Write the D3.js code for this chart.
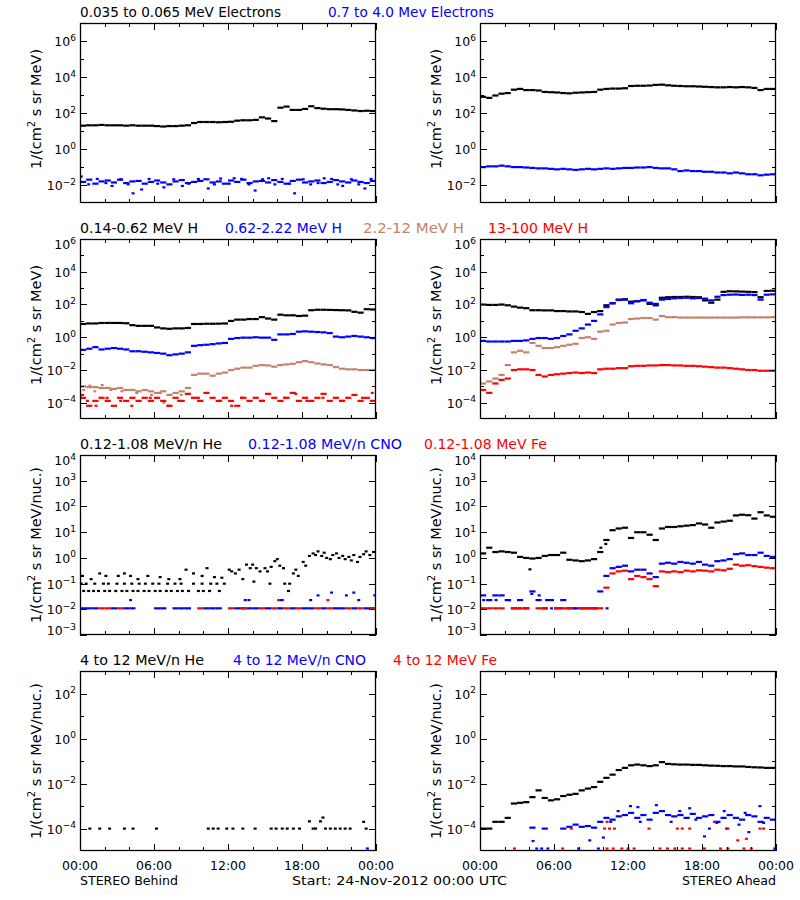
<!DOCTYPE html>
<html><head><meta charset="utf-8">
<script src="https://cdn.jsdelivr.net/npm/d3@7"></script>
<style>
body{margin:0;background:#fff}
text{font-family:"DejaVu Sans",sans-serif}
</style>
</head><body>
<svg id="chart" width="800" height="900"></svg>
<script>
// ---------- time bins (hours since 24-Nov-2012 00:00 UTC), 30-minute bins ----------
const binHours = [0,0.5,1,1.5,2,2.5,3,3.5,4,4.5,5,5.5,6,6.5,7,7.5,8,8.5,9,9.5,10,10.5,11,11.5,
  12,12.5,13,13.5,14,14.5,15,15.5,16,16.5,17,17.5,18,18.5,19,19.5,20,20.5,21,21.5,22,22.5,23,23.5];
const xTickHours = [0,6,12,18,24];
const xTickLabels = ["00:00","06:00","12:00","18:00","00:00"];

// ---------- Row 1: electrons ----------
const eLowBehind = [20,21,21,22,21,21,21,20,21,20,20,20,19,18,19,19,20,21,28,32,32,32,31,32,
  33,38,40,40,42,58,50,36,200,230,150,150,170,240,190,175,165,165,160,150,140,130,135,130];
const eHighBehind = [0.015,0.02,0.012,0.016,0.018,0.014,0.02,0.013,0.016,0.017,0.012,0.015,0.018,0.014,0.011,0.016,
  0.019,0.013,0.015,0.017,0.021,0.014,0.016,0.012,0.018,0.015,0.02,0.013,0.016,0.017,0.014,0.019,
  0.015,0.012,0.017,0.02,0.014,0.016,0.018,0.013,0.015,0.019,0.016,0.014,0.018,0.015,0.013,0.017];
const eHighBehindScatter = [[0.1,0.03],[4.3,0.0035],[5.0,0.0057],[6.8,0.0075],[10.4,0.0065],[14.2,0.005],
  [17.4,0.0035],[23.1,0.0065],[2.6,0.009],[8.3,0.009],[12.5,0.024],[19.8,0.024],[21.3,0.009],[15.3,0.024],
  [0.7,0.011],[1.4,0.022],[2.1,0.013],[3.3,0.021],[3.9,0.011],[5.6,0.022],[6.3,0.012],[7.6,0.021],[8.8,0.012],
  [9.6,0.022],[10.9,0.011],[11.4,0.023],[12.1,0.012],[13.1,0.022],[13.7,0.011],[14.8,0.021],[15.8,0.011],
  [16.4,0.022],[17.0,0.012],[18.1,0.021],[18.7,0.011],[19.3,0.013],[20.4,0.022],[20.9,0.011],[22.0,0.021],
  [22.6,0.011],[23.6,0.022]];
const eLowAhead = [800,700,950,1200,1300,2000,2200,1900,1900,1800,1500,1450,1400,1300,1250,1350,
  1400,1450,1500,2000,2200,2300,2300,2400,3200,3300,3300,3400,3700,3800,3500,3300,
  3200,3100,3100,3000,2900,2800,2700,2700,2800,2700,2800,2700,2500,1900,2200,2200];
const eHighAhead = [0.1,0.11,0.11,0.12,0.11,0.1,0.1,0.095,0.09,0.085,0.085,0.08,0.075,0.08,0.075,0.07,
  0.075,0.08,0.075,0.08,0.085,0.08,0.085,0.09,0.09,0.095,0.095,0.1,0.09,0.085,0.085,0.075,
  0.06,0.065,0.06,0.06,0.055,0.055,0.05,0.05,0.045,0.05,0.045,0.04,0.04,0.035,0.038,0.04];

// ---------- Row 2: protons ----------
const hLowBehind = [6.5,7,7,7.5,7.5,7.5,7.5,7.2,5.5,5,5,5,4,3.5,3.3,3.5,3.5,3.7,6.5,6.5,6.7,6.7,6.8,7,
  10,12,12,13,13,17,14,12,24,22,22,20,21,45,48,48,47,46,45,44,36,32,52,50];
const hMidBehind = [0.17,0.2,0.25,0.18,0.2,0.22,0.2,0.18,0.14,0.14,0.13,0.12,0.11,0.1,0.08,0.09,0.1,0.12,
  0.3,0.33,0.35,0.38,0.42,0.45,0.8,0.9,0.95,0.95,1.0,0.95,0.95,0.7,1.5,1.5,1.6,2.2,2.3,2.2,2.1,2.0,1.8,
  1.1,1.0,1.1,1.2,1.1,1.0,0.9];
const hHighBehind = [0.001,0.0009,0.0009,0.0008,0.0008,0.0007,0.0008,0.0006,0.0006,0.0005,0.0006,0.0005,
  0.0004,0.0005,0.0003,0.0004,0.0005,0.0008,0.005,0.006,0.006,0.0045,0.006,0.007,0.01,0.012,0.014,0.014,
  0.018,0.02,0.019,0.016,0.02,0.022,0.024,0.03,0.035,0.03,0.025,0.022,0.02,0.015,0.012,0.011,0.011,0.01,0.01,0.01];
const hHighBehindScatter = [[0.3,0.0006],[1.2,0.0005],[2.5,0.0006],[3.4,0.0005],[4.6,0.0004],[5.8,0.0003],
  [6.5,0.0004],[7.3,0.0003],[6.8,0.0001],[8.2,0.0003],[1.8,0.0012],[0.8,0.0011]];
const hVeryHighBehind = [2e-4,6.5e-5,1.3e-4,2e-4,1.3e-4,6.5e-5,2e-4,1.3e-4,2e-4,1.3e-4,2e-4,1.3e-4,2e-4,1.3e-4,
  6.5e-5,2e-4,1.3e-4,3.5e-4,2e-4,1.3e-4,4e-4,2e-4,1.3e-4,2e-4,1.3e-4,6.5e-5,2e-4,1.3e-4,2e-4,1.3e-4,3.5e-4,
  2e-4,1.3e-4,2e-4,4e-4,1.3e-4,2e-4,1.3e-4,2e-4,3.5e-4,1.3e-4,2e-4,1.3e-4,2e-4,3e-4,1.3e-4,2e-4,1.3e-4];
const hVeryHighBehindScatter = [[0.2,3e-4],[0.6,1.3e-4],[1.3,6.5e-5],[2.2,2e-4],[3.3,1.3e-4],[4.2,6.5e-5],
  [5.7,2e-4],[7.2,6.5e-5],[8,1.3e-4],[9.6,2e-4],[11.4,1.3e-4],[13.1,2e-4],[14.8,1.3e-4],[16.6,2e-4],
  [18.4,1.3e-4],[19.7,2e-4],[21.3,1.3e-4],[22.9,2e-4],[23.7,4e-4],[12.3,6.5e-5],[17.5,3.5e-4]];
const hLowAhead = [100,95,95,100,90,75,65,60,45,45,44,44,40,40,38,38,35,27,35,40,90,120,200,210,
  150,160,180,110,90,260,280,290,290,300,290,280,180,130,200,600,650,640,620,600,580,280,680,700];
const hMidAhead = [0.6,0.55,0.55,0.55,0.55,0.6,0.6,0.65,0.8,0.9,0.9,0.8,0.9,1.2,1.5,2.5,3.5,6,10,25,70,120,190,200,
  120,160,190,130,110,200,220,240,250,260,240,250,230,180,300,380,400,410,390,400,380,200,400,420];
const hHighAhead = [0.0015,0.002,0.003,0.005,0.02,0.12,0.15,0.12,0.45,0.3,0.22,0.22,0.25,0.3,0.35,0.4,
  0.9,1.0,0.8,2.2,2.5,6,7.5,8,13,14,15,15,12,20,17,17,16,16,16,16,16,16,16,16,16,16,16.5,16.5,16.5,16.5,16.5,17];
const hVeryHighAhead = [0.0006,0.0004,0.0015,0.0025,0.003,0.01,0.011,0.011,0.01,0.005,0.004,0.005,0.0055,
  0.006,0.0065,0.007,0.0065,0.007,0.0065,0.011,0.012,0.012,0.013,0.013,0.017,0.018,0.018,0.019,0.019,0.02,
  0.02,0.019,0.019,0.018,0.018,0.017,0.016,0.015,0.014,0.014,0.013,0.012,0.011,0.01,0.01,0.009,0.009,0.009];

// ---------- Row 3: 0.12-1.08 MeV/n heavy ions ----------
const heLowBehindPts = [
  [0.3,0.052],[0.7,0.052],[1.1,0.052],[1.5,0.052],[2.0,0.052],[2.4,0.052],[2.9,0.052],[3.4,0.052],[3.8,0.052],
  [4.3,0.052],[4.7,0.052],[5.2,0.052],[5.6,0.052],[6.1,0.052],[6.5,0.052],[7.0,0.052],[7.4,0.052],[7.9,0.052],
  [8.3,0.052],[8.8,0.052],[9.6,0.052],[10.0,0.052],[10.5,0.052],[11.3,0.052],[16.9,0.052],
  [0.1,0.1],[0.5,0.1],[1.2,0.1],[1.9,0.1],[2.3,0.1],[3.0,0.1],[3.6,0.1],[4.2,0.1],[4.8,0.1],[5.3,0.1],[5.9,0.1],
  [6.4,0.1],[7.1,0.1],[7.7,0.1],[8.2,0.1],[9.2,0.1],[9.9,0.1],[10.6,0.1],[11.1,0.1],[11.7,0.1],[15.4,0.1],[17.0,0.1],
  [0.2,0.2],[0.9,0.15],[1.6,0.25],[2.1,0.2],[3.1,0.2],[3.6,0.25],[4.1,0.2],[4.7,0.15],[5.5,0.2],[6.5,0.18],
  [7.2,0.15],[8.1,0.15],[8.6,0.35],[9.2,0.25],[9.9,0.2],[10.3,0.4],[10.9,0.18],[11.5,0.17],
  [12.1,0.35],[12.3,0.3],[12.6,0.25],[12.9,0.35],[13.2,0.15],[13.5,0.55],[13.8,0.4],[14.1,0.12],[14.3,0.4],
  [14.6,0.3],[15.0,0.4],[15.2,0.3],[15.5,0.45],[15.8,0.75],[16.0,0.9],[16.2,0.5],[16.5,0.4],[16.6,0.1],
  [17.3,0.25],[17.5,0.35],[17.7,0.2],[14.0,0.55],
  [18.1,0.7],[18.3,0.5],[18.6,1.2],[18.9,1.5],[19.1,1.3],[19.3,1.8],[19.6,1.2],[19.8,1.6],[20.0,1.0],[20.3,0.9],
  [20.5,1.3],[20.8,1.5],[21.0,1.0],[21.3,1.2],[21.5,0.9],[21.8,1.1],[22.0,0.8],[22.2,1.3],[22.5,0.7],
  [22.7,1.1],[23.0,1.4],[23.2,1.8],[23.5,1.3],[23.8,1.7]];
const cnoLowBehind = [0.011,0.011,0.011,null,null,0.011,null,0.011,0.011,null,null,null,0.011,0.011,null,0.011,
  0.011,0.011,null,null,0.011,0.011,0.011,null,null,0.011,0.011,0.011,0.011,null,0.011,null,
  0.011,null,0.011,null,0.011,0.011,null,0.011,null,0.011,0.011,null,0.011,null,0.011,0.011];
const cnoLowBehindHigh = [[4.1,0.023],[13.4,0.023],[13.7,0.023],[16.2,0.023],[16.4,0.023],[18.7,0.023],
  [19.3,0.035],[20.4,0.045],[21.6,0.035],[22.2,0.045],[22.6,0.023],[23.9,0.035]];
const feLowBehind = [null,null,null,0.011,0.011,null,0.011,null,null,null,null,null,null,null,null,null,
  null,null,null,0.011,null,null,null,null,0.011,null,0.011,null,null,0.011,null,0.011,
  null,0.011,null,0.011,null,null,0.011,null,0.011,null,null,0.011,null,0.011,null,0.011];
const feLowBehindHigh = [[16.1,0.023],[20.1,0.023]];
const heLowAhead = [1.5,2.5,1.7,1.8,1.7,1.6,1.1,1.0,0.95,1.0,1.2,1.3,1.3,1.6,0.85,0.8,0.75,0.8,0.9,1.7,
  5,12,14,15,6,10,10,8,5,14,16,16,17,18,19,22,20,15,24,26,28,45,48,46,34,60,45,40];
const heLowAheadScatter = [[4.05,0.36],[9.8,2.5],[10.2,3.5]];
const cnoLowAhead = [0.035,0.023,0.035,0.035,0.023,0.011,0.023,0.011,0.05,0.023,0.011,0.023,0.011,0.023,
  0.011,0.011,0.011,0.011,0.011,0.05,0.2,0.4,0.45,0.5,0.3,0.35,0.35,0.25,0.18,0.6,0.65,0.6,0.7,0.65,0.6,0.7,
  0.55,0.5,0.75,0.8,0.9,1.4,1.5,1.3,1.3,1.6,1.2,1.1];
const cnoLowAheadScatter = [[0.3,0.023],[1.3,0.023],[2.4,0.023],[4.2,0.04],[4.8,0.035],[5.4,0.023],
  [3.2,0.011],[5.8,0.011],[6.6,0.011],[7.7,0.011],[9.4,0.011],[10.3,0.011]];
const feLowAhead = [0.011,0.011,0.011,0.011,null,0.011,0.011,0.011,null,0.011,0.011,null,0.011,0.011,0.011,
  null,0.011,0.011,0.011,0.011,0.07,0.25,0.3,0.32,0.15,0.2,0.18,0.15,0.08,0.3,0.28,0.3,0.28,0.32,0.3,0.33,
  0.32,0.3,0.35,0.33,0.38,0.55,0.5,0.52,0.48,0.45,0.42,0.4];

// ---------- Row 4: 4-12 MeV/n heavy ions ----------
const heHighBehindPts = [[0.8,1e-4],[1.6,1e-4],[2.4,1e-4],[3.6,1e-4],[4.3,1e-4],[6.2,1e-4],[10.4,1e-4],
  [10.8,1e-4],[11.2,1e-4],[11.9,1e-4],[12.4,1e-4],[13.2,1e-4],[14.2,1e-4],[15.5,1e-4],[15.9,1e-4],[16.4,1e-4],
  [16.8,1e-4],[17.3,1e-4],[17.8,1e-4],[18.6,2.1e-4],[19.1,1e-4],[19.5,2.1e-4],[19.7,3.1e-4],[19.9,1e-4],
  [20.3,1e-4],[20.7,1e-4],[21.1,1e-4],[21.5,1e-4],[21.9,1e-4],[23.0,2e-4],[23.2,1e-4],[18.9,1e-4]];
const cnoHighBehindPts = [[23.3,1.3e-5]];
const heHighAhead = [1e-4,1e-4,2e-4,2e-4,3e-4,1.3e-3,1.4e-3,1.5e-3,2.5e-3,5e-3,2.3e-3,1.8e-3,2e-3,2.8e-3,
  3.2e-3,3.5e-3,5e-3,6e-3,7e-3,0.012,0.018,0.025,0.04,0.05,0.065,0.07,0.065,0.06,0.065,0.09,0.075,0.072,
  0.07,0.07,0.068,0.068,0.065,0.063,0.062,0.06,0.06,0.058,0.058,0.055,0.053,0.052,0.05,0.05];
const cnoHighAhead = [null,null,null,null,null,null,null,null,1.1e-4,null,1e-4,null,null,1e-4,1.2e-4,1.5e-4,
  1.2e-4,1.3e-4,1.1e-4,2e-4,3e-4,2.5e-4,3.5e-4,4e-4,5e-4,3e-4,4e-4,2.5e-4,5e-4,6e-4,4e-4,3.5e-4,4e-4,3e-4,
  4.5e-4,3e-4,3.5e-4,4e-4,2e-4,3e-4,4e-4,3e-4,2.5e-4,4e-4,3.5e-4,2e-4,3e-4,2.5e-4];
const cnoHighAheadScatter = [[4.3,2.8e-5],[4.6,1.3e-5],[5.0,1.3e-5],[5.5,1.3e-5],[8.9,3e-5],[9.6,1.3e-5],
  [8.0,1.3e-5],[10.0,4e-5],[12.2,1e-3],[12.8,9e-4],[14.3,1.1e-3],[17.0,8e-4],[18.2,4.5e-5],[20.0,1e-4],
  [21.8,7e-5],[22.7,1e-3],[23.9,1.3e-5],[13.0,2e-4],[15.5,2e-4],[17.5,2.5e-4],[19.2,1.8e-4],[21,1.5e-4],
  [23,1.8e-4],[11.2,6e-4],[16.2,6e-4],[19.8,6e-4],[21.5,5e-4],[10.6,2e-4],[18.6,1e-4]];
const feHighAheadPts = [[2.8,1.3e-5],[6.7,1.3e-5],[10.3,1.3e-5],[10.8,1.3e-5],[11.5,1.3e-5],[12.0,1.3e-5],
  [12.5,1.3e-5],[14.6,1.3e-5],[15.2,1.3e-5],[15.8,1.3e-5],[16.4,1.3e-5],[17.0,1.3e-5],[18.2,1.3e-5],
  [19.5,1.3e-5],[20.1,1.3e-5],[21.4,1.3e-5],[22.0,1.3e-5],[7.4,1e-4],[10.1,1e-4],[10.5,1e-4],[10.9,1e-4],
  [13.7,1e-4],[16.0,1e-4],[16.4,1e-4],[17.0,1e-4],[20.1,1e-4],[22.7,1e-4],[23.0,1e-4],[10.3,2e-4],
  [19.0,2e-4],[20.9,3e-5],[21.6,3.5e-5]];

// ---------- texts ----------
const panelTitles = [
  [["0.035 to 0.065 MeV Electrons",80,201,"#000"],["0.7 to 4.0 Mev Electrons",328,166,"#0000ff"]],
  [["0.14-0.62 MeV H",80,118,"#000"],["0.62-2.22 MeV H",225,117,"#0000ff"],["2.2-12 MeV H",363,101,"#c4826a"],["13-100 MeV H",488,100,"#ff0000"]],
  [["0.12-1.08 MeV/n He",80,142,"#000"],["0.12-1.08 MeV/n CNO",248,154,"#0000ff"],["0.12-1.08 MeV Fe",424,123,"#ff0000"]],
  [["4 to 12 MeV/n He",80,124,"#000"],["4 to 12 MeV/n CNO",233,133,"#0000ff"],["4 to 12 MeV Fe",393,104,"#ff0000"]]
];
const yLabelMain = ["1/(cm","1/(cm","1/(cm","1/(cm"];
const yLabelTail = [" s sr MeV)"," s sr MeV)"," s sr MeV/nuc.)"," s sr MeV/nuc.)"];
const yDomains = [[1e-3,1e7],[1e-5,1e6],[1e-3,1e4],[1e-5,1e3]];
const yLabeledExp = [[-2,0,2,4,6],[-4,-2,0,2,4,6],[-3,-2,-1,0,1,2,3,4],[-4,-2,0,2]];
const yMinorExp = [[-1,1,3,5],[-3,-1,1,3,5],[],[-3,-1,1]];

// ---------- layout ----------
const colX = [80,480], rowY = [23,239,455,671], W = 296, H = 180;
const BLACK="#000", BLUE="#0000ff", RED="#ff0000", TAN="#c4826a";

const panels = [
  [0,0,[{t:"bin",d:eLowBehind,c:BLACK},{t:"bin",d:eHighBehind,c:BLUE},{t:"pt",d:eHighBehindScatter,c:BLUE}]],
  [0,1,[{t:"bin",d:eLowAhead,c:BLACK},{t:"bin",d:eHighAhead,c:BLUE}]],
  [1,0,[{t:"bin",d:hLowBehind,c:BLACK},{t:"bin",d:hMidBehind,c:BLUE},{t:"bin",d:hHighBehind,c:TAN},{t:"pt",d:hHighBehindScatter,c:TAN},
        {t:"bin",d:hVeryHighBehind,c:RED},{t:"pt",d:hVeryHighBehindScatter,c:RED}]],
  [1,1,[{t:"bin",d:hLowAhead,c:BLACK},{t:"bin",d:hMidAhead,c:BLUE},{t:"bin",d:hHighAhead,c:TAN},{t:"bin",d:hVeryHighAhead,c:RED}]],
  [2,0,[{t:"pt",d:heLowBehindPts,c:BLACK},{t:"bin",d:cnoLowBehind,c:BLUE},{t:"pt",d:cnoLowBehindHigh,c:BLUE},
        {t:"bin",d:feLowBehind,c:RED},{t:"pt",d:feLowBehindHigh,c:RED}]],
  [2,1,[{t:"bin",d:heLowAhead,c:BLACK},{t:"pt",d:heLowAheadScatter,c:BLACK},{t:"bin",d:cnoLowAhead,c:BLUE},{t:"pt",d:cnoLowAheadScatter,c:BLUE},
        {t:"bin",d:feLowAhead,c:RED}]],
  [3,0,[{t:"pt",d:heHighBehindPts,c:BLACK},{t:"pt",d:cnoHighBehindPts,c:BLUE}]],
  [3,1,[{t:"bin",d:heHighAhead,c:BLACK},{t:"bin",d:cnoHighAhead,c:BLUE},{t:"pt",d:cnoHighAheadScatter,c:BLUE},{t:"pt",d:feHighAheadPts,c:RED}]]
];

const svg = d3.select("#chart");
svg.append("rect").attr("width",800).attr("height",900).attr("fill","#fff");

const x = d3.scaleLinear().domain([0,24]).range([0,W]);
const xTicksAll = d3.range(0,25,2);

panels.forEach(([r,c,series],pi)=>{
  const g = svg.append("g").attr("transform",`translate(${colX[c]},${rowY[r]})`);
  const y = d3.scaleLog().domain(yDomains[r]).range([H,0]);
  const cid = "clip"+pi;
  g.append("clipPath").attr("id",cid).append("rect").attr("x",0).attr("y",0).attr("width",W).attr("height",H);
  const dg = g.append("g").attr("clip-path",`url(#${cid})`);
  series.forEach(s=>{
    if(s.t==="bin"){
      const pts = binHours.map((h,i)=>[h,s.d[i]]).filter(p=>p[1]!=null);
      dg.selectAll(null).data(pts).enter().append("rect")
        .attr("x",p=>x(p[0])).attr("width",p=>x(p[0]+0.5)-x(p[0]))
        .attr("y",p=>y(p[1])-1).attr("height",2.2).attr("fill",s.c);
    } else {
      dg.selectAll(null).data(s.d).enter().append("rect")
        .attr("x",p=>x(p[0])-1.5).attr("width",3)
        .attr("y",p=>y(p[1])-1).attr("height",2.2).attr("fill",s.c);
    }
  });
  g.append("rect").attr("x",0.5).attr("y",0.5).attr("width",W-1).attr("height",H-1)
    .attr("fill","none").attr("stroke","#000").attr("stroke-width",1.3);
  xTicksAll.forEach(h=>{
    const len = (h%6===0)?7:4, px = Math.round(x(h))+0.5;
    g.append("line").attr("x1",px).attr("x2",px).attr("y1",H).attr("y2",H-len).attr("stroke","#000");
    g.append("line").attr("x1",px).attr("x2",px).attr("y1",0).attr("y2",len).attr("stroke","#000");
  });
  const yt = (e,len)=>{
    const py = Math.round(y(Math.pow(10,e)))+0.5;
    g.append("line").attr("x1",0).attr("x2",len).attr("y1",py).attr("y2",py).attr("stroke","#000");
    g.append("line").attr("x1",W).attr("x2",W-len).attr("y1",py).attr("y2",py).attr("stroke","#000");
  };
  yLabeledExp[r].forEach(e=>yt(e,7));
  yMinorExp[r].forEach(e=>yt(e,4));
  const [lo,hi] = yDomains[r];
  yLabeledExp[r].forEach(e=>{
    const v = Math.pow(10,e);
    let shift = 0;
    if (Math.abs(v-hi)/hi < 1e-9) shift = 5;      // keep label inside at top edge
    if (Math.abs(v-lo)/lo < 1e-9) shift = -5;     // and at bottom edge
    const t = g.append("text").attr("x",-4).attr("y",y(v)+5+shift)
      .attr("text-anchor","end").attr("font-size",12.5).attr("fill","#000");
    t.append("tspan").text("10");
    t.append("tspan").attr("dy",-5.5).attr("font-size",9).text(e<0?"\u2212"+(-e):String(e));
  });
  const cy = rowY[r] + H/2 - (r<2 ? 4 : 0);
  const lab = svg.append("text").attr("transform",`translate(${colX[c]-39},${cy}) rotate(-90)`)
    .attr("text-anchor","middle").attr("font-size",14.5).attr("fill","#000");
  lab.append("tspan").text(yLabelMain[r]);
  lab.append("tspan").attr("dy",-6).attr("font-size",10).text("2");
  lab.append("tspan").attr("dy",6).text(yLabelTail[r]);
  if(r===3){
    xTickHours.forEach((h,i)=>{
      g.append("text").attr("x",x(h)).attr("y",H+19).attr("text-anchor","middle")
        .attr("font-size",12.5).attr("fill","#000").text(xTickLabels[i]);
    });
  }
});

panelTitles.forEach((row,r)=>{
  row.forEach(([txt,x0,w,col])=>{
    svg.append("text").attr("x",x0).attr("y",rowY[r]-6).attr("font-size",13.5)
      .attr("fill",col).attr("textLength",w).attr("lengthAdjust","spacingAndGlyphs").text(txt);
  });
});

svg.append("text").attr("x",80).attr("y",885).attr("font-size",13).attr("textLength",98)
  .attr("lengthAdjust","spacingAndGlyphs").text("STEREO Behind");
svg.append("text").attr("x",292).attr("y",885).attr("font-size",13).attr("textLength",215)
  .attr("lengthAdjust","spacingAndGlyphs").text("Start: 24-Nov-2012 00:00 UTC");
svg.append("text").attr("x",682).attr("y",885).attr("font-size",13).attr("textLength",94)
  .attr("lengthAdjust","spacingAndGlyphs").text("STEREO Ahead");
</script>
</body></html>
